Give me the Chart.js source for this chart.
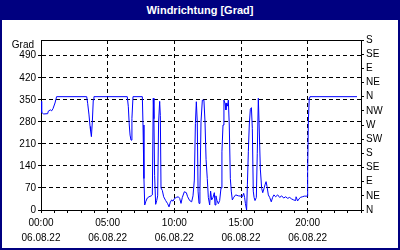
<!DOCTYPE html>
<html>
<head>
<meta charset="utf-8">
<script src="https://cdn.jsdelivr.net/npm/chart.js@4"></script>
<style>
	body { margin: 0; background: #fff; }
	#box { position: relative; width: 400px; height: 250px; overflow: hidden; }
	#hist { position: absolute; left: 0; top: 0; }
	#title {
		position: absolute; left: 0; top: 0; width: 400px; height: 20px;
		background: #000080; color: #fff; text-align: center;
		font: bold 11px "Liberation Sans", sans-serif; line-height: 20px;
	}
	#frame {
		position: absolute; left: 0; top: 20px; width: 400px; height: 230px;
		box-sizing: border-box; border: 2px solid #000080; border-top: none;
	}
</style>
</head>
<body>
<div id="box">
	<canvas id="hist" width="400" height="250"></canvas>
	<div id="title">Windrichtung [Grad]</div>
	<div id="frame"></div>
</div>
<script>
// time of day in hours, wind direction in degrees
const hours = [
	0.00, 0.05, 0.2, 0.5, 0.55, 0.7, 0.8, 0.9, 1.05, 1.17,
	3.43, 3.5, 3.6, 3.68, 3.72, 3.78, 3.85, 3.92, 3.97,
	6.47, 6.55, 6.62, 6.68, 6.75, 6.82, 6.9,
	7.6, 7.65, 7.72, 7.78, 7.85, 7.97, 8.1, 8.27, 8.35, 8.42, 8.47, 8.52, 8.6, 8.68,
	8.75, 8.82, 8.9, 8.95, 9.0, 9.1, 9.2, 9.35, 9.5, 9.6,
	9.7, 9.8, 9.9, 10.0, 10.15, 10.3, 10.4, 10.5, 10.6, 10.75, 10.9, 11.0, 11.15, 11.3,
	11.4, 11.5, 11.58, 11.65, 11.72, 11.78, 11.85, 11.92, 12.0, 12.1, 12.22, 12.3,
	12.38, 12.47, 12.55, 12.65, 12.72, 12.8, 12.9, 13.0, 13.05, 13.12, 13.2, 13.3,
	13.4, 13.5, 13.57, 13.65, 13.72, 13.8, 13.87, 13.93, 14.0, 14.05, 14.12, 14.2,
	14.27, 14.35, 14.45, 14.6, 14.8, 15.0, 15.1, 15.2, 15.27, 15.33, 15.42, 15.48,
	15.55, 15.62, 15.7, 15.78, 15.85, 15.92, 15.98, 16.05, 16.15, 16.22, 16.3, 16.36,
	16.45, 16.55, 16.63, 16.73, 16.8, 16.88, 16.95, 17.05, 17.15, 17.27, 17.37, 17.47,
	17.6, 17.75, 17.9, 18.05, 18.2, 18.35, 18.5, 18.65, 18.8, 18.95, 19.1, 19.13,
	19.25, 19.35, 19.45, 19.6, 19.75, 19.95, 20.0, 20.05, 20.12, 20.17, 23.7
];
const degrees = [
	345, 310, 305, 306, 314, 318, 315, 322, 340, 360,
	360, 339, 302, 265, 251, 233, 280, 349, 360,
	360, 328, 270, 238, 222, 291, 360,
	360, 270, 100, 16, 26, 38, 42, 45, 48, 355, 290, 110, 18, 30,
	45, 280, 345, 300, 70, 62, 42, 30, 20, 10,
	25, 32, 28, 36, 40, 42, 37, 21, 40, 58, 55, 42, 30, 26,
	45, 95, 275, 344, 280, 60, 21, 60, 280, 349, 349, 280,
	160, 100, 40, 16, 60, 32, 40, 55, 16, 45, 30, 20,
	30, 70, 185, 270, 349, 339, 318, 340, 330, 349, 270, 100,
	60, 32, 40, 48, 45, 44, 42, 53, 40, 21, 0, 80,
	185, 270, 320, 325, 259, 60, 40, 30, 40, 180, 355, 270,
	130, 69, 55, 69, 80, 90, 75, 48, 40, 26, 40, 48,
	42, 48, 40, 45, 38, 42, 37, 40, 35, 32, 30, 42,
	29, 35, 40, 42, 44, 44, 122, 280, 357, 360, 360
];

const gradTicks = [0, 70, 140, 210, 280, 350, 420, 490];
const compassLabels = ["N", "NE", "E", "SE", "S", "SW", "W", "NW", "N", "NE", "E", "SE", "S"];
const compassTicks = [0, 45, 90, 135, 180, 225, 270, 315, 360, 405, 450, 495, 540];
const hourTicks = [0, 1, 2, 3, 4, 5, 6, 7, 8, 9, 10, 11, 12, 13, 14, 15, 16, 17, 18, 19, 20, 21, 22, 23, 24];
const dateLabel = "06.08.22";
const yMax = 540;

const fontFam = "'Liberation Sans', sans-serif";
Chart.defaults.font.family = fontFam;
Chart.defaults.font.size = 10;
Chart.defaults.color = "#000";

const framePlugin = {
	id: "frame",
	beforeDraw: (chart) => {
		let ctx = chart.ctx;
		ctx.save();
		ctx.fillStyle = "#fff";
		ctx.fillRect(0, 0, chart.width, chart.height);
		ctx.restore();
	},
	afterDraw: (chart) => {
		let ctx = chart.ctx;
		let a = chart.chartArea;
		ctx.save();
		ctx.strokeStyle = "#000";
		ctx.lineWidth = 1;
		ctx.beginPath();
		ctx.moveTo(a.left, Math.round(a.top) + 0.5);
		ctx.lineTo(a.right, Math.round(a.top) + 0.5);
		ctx.stroke();
		ctx.font = "10px " + fontFam;
		ctx.fillStyle = "#000";
		ctx.textAlign = "right";
		ctx.textBaseline = "middle";
		ctx.fillText("Grad", 34, 45);
		ctx.restore();
	}
};

const pad2 = (n) => (n < 10 ? "0" : "") + n;

new Chart(document.getElementById("hist"), {
	type: "line",
	data: {
		datasets: [{
			data: hours.map((h, i) => ({ x: h, y: degrees[i] })),
			borderColor: "#0000ff",
			borderWidth: 1,
			pointRadius: 0,
			tension: 0,
			fill: false
		}]
	},
	options: {
		responsive: false,
		animation: false,
		layout: { padding: { top: 40, left: 0, right: 0, bottom: 0 } },
		scales: {
			x: {
				type: "linear",
				min: 0,
				max: 24,
				afterBuildTicks: s => { s.ticks = hourTicks.map(v => ({ value: v })); },
				afterFit: s => { s.height = 40; },
				grid: {
					color: c => (c.tick && c.tick.value % 5 === 0 && c.tick.value < 24) ? "#000" : "rgba(0,0,0,0)",
					tickColor: "#000",
					tickLength: 3,
					lineWidth: 1
				},
				border: { display: true, color: "#000", dash: [4, 3] },
				ticks: {
					autoSkip: false,
					maxRotation: 0,
					padding: 3,
					font: { size: 10, lineHeight: 1.5 },
					callback: v => (v % 5 === 0 && v < 24) ? [pad2(v) + ":00", dateLabel] : ""
				}
			},
			y: {
				type: "linear",
				position: "left",
				min: 0,
				max: yMax,
				afterBuildTicks: s => { s.ticks = gradTicks.map(v => ({ value: v })); },
				afterFit: s => { s.width = 41; },
				grid: { color: "#000", tickColor: "#000", tickLength: 3 },
				border: { display: true, color: "#000", dash: [4, 3] },
				ticks: { autoSkip: false, padding: 2, callback: v => String(v) }
			},
			y2: {
				type: "linear",
				position: "right",
				min: 0,
				max: yMax,
				afterBuildTicks: s => { s.ticks = compassTicks.map(v => ({ value: v })); },
				afterFit: s => { s.width = 39; },
				grid: { drawOnChartArea: false, tickColor: "#000", tickLength: 3 },
				border: { display: true, color: "#000" },
				ticks: { autoSkip: false, padding: 2, callback: (v, i) => compassLabels[i] }
			}
		},
		plugins: {
			legend: { display: false },
			tooltip: { enabled: false }
		}
	},
	plugins: [framePlugin]
});
</script>
</body>
</html>
